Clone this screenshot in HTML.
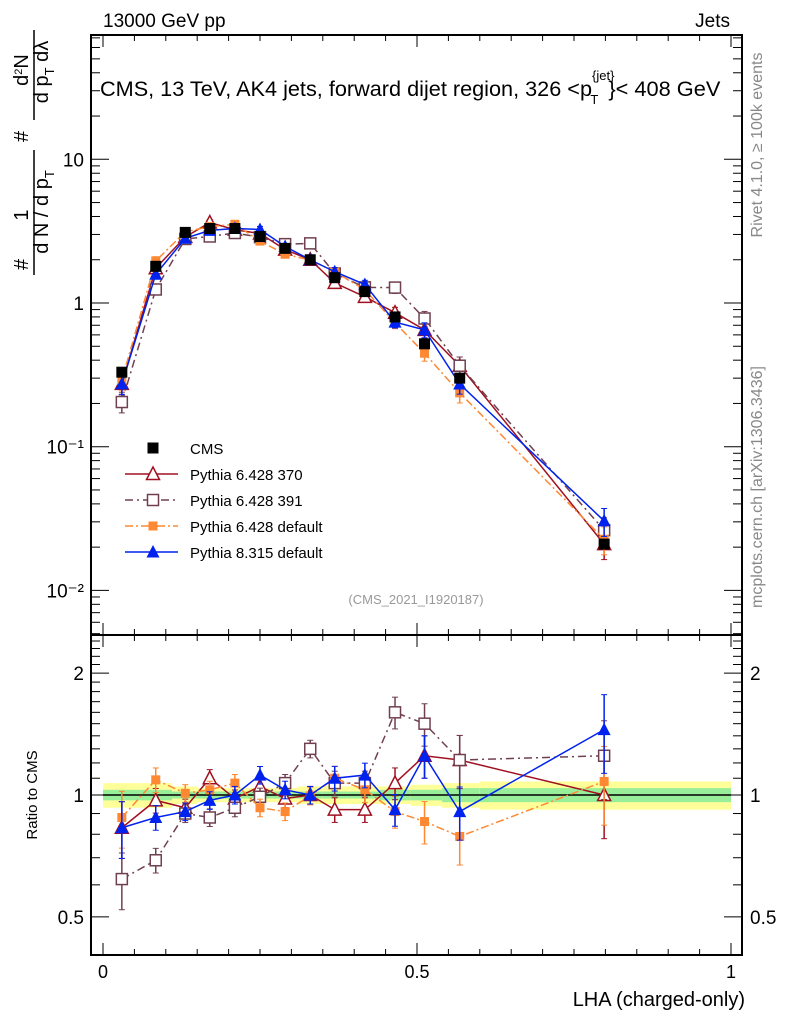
<!DOCTYPE html>
<html><head><meta charset="utf-8"><style>
body{margin:0;background:#fff;}
svg{font-family:"Liberation Sans",sans-serif;}
</style></head><body>
<svg id="c" width="786" height="1024" viewBox="0 0 786 1024">
<text x="103" y="27" font-size="19">13000 GeV pp</text>
<text x="730" y="27" font-size="19" text-anchor="end">Jets</text>
<text x="100" y="96" font-size="21"><tspan textLength="492" lengthAdjust="spacingAndGlyphs">CMS, 13 TeV, AK4 jets, forward dijet region, 326 &lt;p</tspan><tspan font-size="13" dy="-16">{jet}</tspan><tspan font-size="13" dx="-24" dy="24">T</tspan><tspan dy="-8" dx="10" textLength="112" lengthAdjust="spacingAndGlyphs">}&lt; 408 GeV</tspan></text>
<text transform="translate(762,145) rotate(-90)" font-size="16" fill="#888" text-anchor="middle">Rivet 4.1.0, ≥ 100k events</text>
<text transform="translate(762,487) rotate(-90)" font-size="16" fill="#888" text-anchor="middle">mcplots.cern.ch [arXiv:1306.3436]</text>
<text x="416" y="604" font-size="13" fill="#999" text-anchor="middle">(CMS_2021_I1920187)</text>
<g font-size="20">
<text transform="translate(28,270) rotate(-90)">#</text>
<text transform="translate(28,215) rotate(-90)" text-anchor="middle">1</text>
<line x1="34" y1="150" x2="34" y2="275" stroke="#000" stroke-width="1.5"/>
<text transform="translate(48,212) rotate(-90)" text-anchor="middle">d N / d p<tspan font-size="13" dy="6">T</tspan></text>
<text transform="translate(28,142) rotate(-90)">#</text>
<text transform="translate(28,70) rotate(-90)" text-anchor="middle">d<tspan font-size="11" dy="-6">2</tspan><tspan dy="6">N</tspan></text>
<line x1="34" y1="30" x2="34" y2="120" stroke="#000" stroke-width="1.5"/>
<text transform="translate(48,72) rotate(-90)" text-anchor="middle">d p<tspan font-size="13" dy="6">T</tspan><tspan dy="-6"> d</tspan>λ</text>
</g>
<text transform="translate(37,795) rotate(-90)" font-size="15" text-anchor="middle">Ratio to CMS</text>
<text x="745" y="1006" font-size="20" text-anchor="end">LHA (charged-only)</text>
<g id="bands"></g><g id="axes"></g><g id="marks"></g><g id="legend"></g>
</svg>
<script>
const binLo=[0,0.06,0.11,0.15,0.19,0.23,0.27,0.31,0.35,0.39,0.44,0.49,0.54,0.6];
const binHi=[0.06,0.11,0.15,0.19,0.23,0.27,0.31,0.35,0.39,0.44,0.49,0.54,0.6,1.0];
const xs=[0.03,0.084,0.131,0.17,0.21,0.25,0.29,0.33,0.369,0.417,0.465,0.512,0.568,0.798];
const cms=[0.33,1.8,3.1,3.3,3.3,2.9,2.4,2.0,1.5,1.2,0.8,0.52,0.3,0.021];
const cmsErrStat=[0.03,0.03,0.02,0.02,0.02,0.02,0.02,0.02,0.02,0.02,0.03,0.03,0.04,0.04];
const cmsErrTot=[0.07,0.07,0.05,0.04,0.04,0.04,0.04,0.05,0.05,0.05,0.05,0.06,0.07,0.08];
const r370=[0.83,0.97,0.93,1.1,0.98,1.05,0.98,1.0,0.92,0.92,1.07,1.25,1.22,1.0];
const r391=[0.62,0.69,0.9,0.88,0.93,0.99,1.07,1.3,1.07,1.07,1.6,1.5,1.22,1.25];
const r6def=[0.88,1.09,1.01,1.03,1.07,0.93,0.91,0.995,1.1,1.03,0.91,0.86,0.79,1.08];
const r8def=[0.83,0.88,0.91,0.97,1.0,1.12,1.03,1.0,1.1,1.12,0.92,1.25,0.91,1.45];
const relErr=[0.16,0.07,0.05,0.05,0.05,0.05,0.05,0.05,0.07,0.07,0.09,0.12,0.15,0.22];
const yTicksMain=[0.01,0.1,1,10];
const yTickLabels=["10\u207B\u00B2","10\u207B\u00B9","1","10"];
const rTicks=[0.5,1,2];
const xTicks=[0,0.5,1];
const labels=["CMS","Pythia 6.428 370","Pythia 6.428 391","Pythia 6.428 default","Pythia 8.315 default"];

const NS="http://www.w3.org/2000/svg";
const L=91,R=742,T=35,MB=635,RB=955;
const X=v=>103+v*628;
const Y=v=>303-Math.log10(v)*143.7;
const YR=v=>795-Math.log10(v)*405;
function mk(p,tag,a){const e=document.createElementNS(NS,tag);for(const k in a)e.setAttribute(k,a[k]);p.appendChild(e);return e;}
const bands=document.getElementById('bands'),axes=document.getElementById('axes'),marks=document.getElementById('marks'),leg=document.getElementById('legend');
binLo.forEach((lo,i)=>{
 const hi=binHi[i];
 let e=mk(bands,'rect',{x:X(lo),width:X(hi)-X(lo),y:YR(1+cmsErrTot[i]),height:YR(1-cmsErrTot[i])-YR(1+cmsErrTot[i]),fill:'#ffff99'});
 
 
 e=mk(bands,'rect',{x:X(lo),width:X(hi)-X(lo),y:YR(1+cmsErrStat[i]),height:YR(1-cmsErrStat[i])-YR(1+cmsErrStat[i]),fill:'#99ee99'});
 
 
});
mk(axes,'line',{x1:X(0),x2:X(1),y1:YR(1),y2:YR(1),stroke:'#000','stroke-width':1.5});
mk(axes,'rect',{x:L,y:T,width:R-L,height:MB-T,fill:'none',stroke:'#000','stroke-width':2});
mk(axes,'rect',{x:L,y:MB,width:R-L,height:RB-MB,fill:'none',stroke:'#000','stroke-width':2});
for(let v=0;v<=1.0001;v+=0.05){const big=Math.abs(v*2-Math.round(v*2))<1e-6;const h=big?12:6;
 [[T,1],[MB,1],[MB,-1],[RB,-1]].forEach(([y0,d])=>mk(axes,'line',{x1:X(v),x2:X(v),y1:y0,y2:y0+d*h,stroke:'#000','stroke-width':1}));}
xTicks.forEach(v=>{const t=mk(axes,'text',{x:X(v),y:978,'font-size':18,'text-anchor':'middle'});t.textContent=String(v);
 
 });
for(let d=-3;d<2;d++)for(let m=1;m<10;m++){const v=m*Math.pow(10,d);const y=Y(v);if(y<T||y>MB)continue;const h=m==1?18:9;
 mk(axes,'line',{x1:L,x2:L+h,y1:y,y2:y,stroke:'#000'});mk(axes,'line',{x1:R,x2:R-h,y1:y,y2:y,stroke:'#000'});}
yTicksMain.forEach((v,i)=>{const t=mk(axes,'text',{x:84,y:Y(v)+7,'font-size':19,'text-anchor':'end'});t.textContent=yTickLabels[i];
 
 });
for(let v=0.4;v<=2.5;v+=0.1){const y=YR(v);if(y<MB||y>RB)continue;const big=[0.5,1,2].some(k=>Math.abs(k-v)<1e-6);const h=big?18:9;
 mk(axes,'line',{x1:L,x2:L+h,y1:y,y2:y,stroke:'#000'});mk(axes,'line',{x1:R,x2:R-h,y1:y,y2:y,stroke:'#000'});}
rTicks.forEach(v=>{[[84,'end'],[750,'start']].forEach(([x,a])=>{const t=mk(axes,'text',{x:x,y:YR(v)+7,'font-size':19,'text-anchor':a});t.textContent=String(v);
 
 });});
function marker(g,type,x,y,col){
 if(type=='sq')return mk(g,'rect',{x:x-5.5,y:y-5.5,width:11,height:11,fill:'#000'});
 if(type=='osq')return mk(g,'rect',{x:x-5.5,y:y-5.5,width:11,height:11,fill:'#fff',stroke:col,'stroke-width':1.5});
 if(type=='fsq')return mk(g,'rect',{x:x-4.5,y:y-4.5,width:9,height:9,fill:col});
 if(type=='otri')return mk(g,'polygon',{points:`${x},${y-7} ${x-6.5},${y+5.5} ${x+6.5},${y+5.5}`,fill:'#fff',stroke:col,'stroke-width':1.5});
 return mk(g,'polygon',{points:`${x},${y-7} ${x-6.5},${y+5.5} ${x+6.5},${y+5.5}`,fill:col});
}
const series=[
 {name:'pythia-6-370',r:r370,col:'#a01020',type:'otri',dash:''},
 {name:'pythia-6-391',r:r391,col:'#704050',type:'osq',dash:'8,4,2,4'},
 {name:'pythia-6-default',r:r6def,col:'#ff8833',type:'fsq',dash:'8,3,2,3'},
 {name:'pythia-8-default',r:r8def,col:'#0022ee',type:'tri',dash:''}];
series.forEach(s=>{
 const g=mk(marks,'g',{});
 
 
 const vals=cms.map((c,i)=>c*s.r[i]);
 mk(g,'polyline',{points:vals.map((v,i)=>X(xs[i])+','+Y(v)).join(' '),fill:'none',stroke:s.col,'stroke-width':1.5,'stroke-dasharray':s.dash});
 mk(g,'polyline',{points:s.r.map((v,i)=>X(xs[i])+','+YR(v)).join(' '),fill:'none',stroke:s.col,'stroke-width':1.5,'stroke-dasharray':s.dash});
 vals.forEach((v,i)=>{const e=relErr[i];
  [[Y,v],[YR,s.r[i]]].forEach(([f,w])=>{
   mk(g,'line',{x1:X(xs[i]),x2:X(xs[i]),y1:f(w*(1+e)),y2:f(w*(1-e)),stroke:s.col,'stroke-width':1.5});
   mk(g,'line',{x1:X(xs[i])-3,x2:X(xs[i])+3,y1:f(w*(1+e)),y2:f(w*(1+e)),stroke:s.col});
   mk(g,'line',{x1:X(xs[i])-3,x2:X(xs[i])+3,y1:f(w*(1-e)),y2:f(w*(1-e)),stroke:s.col});
   const m=marker(g,s.type,X(xs[i]),f(w),s.col);
   
   
  });});
});
const gd=mk(marks,'g',{});


cms.forEach((v,i)=>{
 const m=marker(gd,'sq',X(xs[i]),Y(v),'#000');
 
 
});
const lsty=[{type:'sq',col:'#000',dash:null},{type:'otri',col:'#a01020',dash:''},{type:'osq',col:'#704050',dash:'8,4,2,4'},{type:'fsq',col:'#ff8833',dash:'8,3,2,3'},{type:'tri',col:'#0022ee',dash:''}];
labels.forEach((lab,i)=>{
 const y=448+i*26;
 const g=mk(leg,'g',{});
 
 
 if(lsty[i].dash!==null)mk(g,'line',{x1:125,x2:178,y1:y,y2:y,stroke:lsty[i].col,'stroke-width':1.5,'stroke-dasharray':lsty[i].dash});
 marker(g,lsty[i].type,153,y,lsty[i].col);
 const t=mk(g,'text',{x:190,y:y+6,'font-size':15});t.textContent=lab;
});
</script>
</body></html>
